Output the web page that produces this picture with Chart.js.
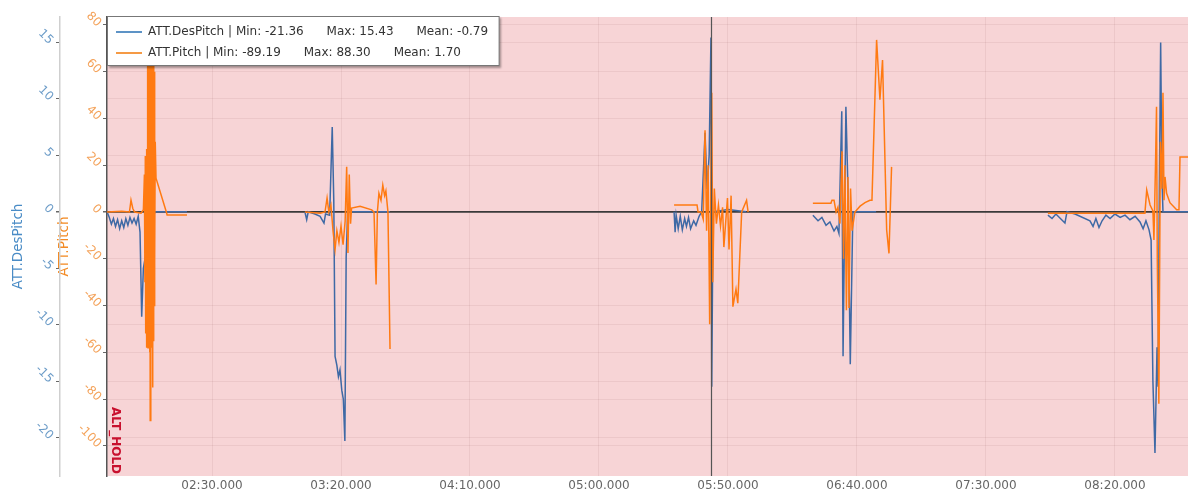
<!DOCTYPE html>
<html>
<head>
<meta charset="utf-8">
<script src="https://cdn.jsdelivr.net/npm/chart.js@4.4.1/dist/chart.umd.min.js"></script>
<style>
  html, body { margin: 0; padding: 0; background: #fff; }
  #caixa { width: 1188px; height: 502px; }
</style>
</head>
<body>
<div id="caixa"><canvas id="grafico" width="1188" height="502"></canvas></div>
<script>
// tempos em segundos, null = sem dados entre os voos
const desPitchTempo = [
  109.3, 110.2, 111.0, 111.8, 112.6, 113.4, 114.2, 115.0, 115.8, 116.6, 117.4, 118.2, 119.0, 119.8,
  120.6, 121.4, 122.1, 122.75, 123.4, 124.3, 125.0, 125.5, 126.0, 126.5, 127.0, 127.8, 133.0, 140.3, 141,
  186.0, 186.7, 187.3, 189.9, 191.9, 193.4, 194.0, 195.6, 196.6, 197.2, 197.7, 198.4, 199.0, 199.6,
  200.3, 200.9, 201.5, 202.0, 202.6, 210.0, 219.0, 220,
  329.1, 329.5, 329.9, 330.7, 331.5, 332.3, 333.2, 333.9, 334.7, 335.5, 336.7, 337.6, 338.8, 339.8,
  341.1, 341.9, 342.7, 343.4, 343.7, 344.2, 350.0, 357.0, 358,
  382.9, 384.9, 386.4, 388.0, 389.5, 391.1, 392.2, 393.0, 394.1, 394.6, 395.7, 396.5, 397.4, 398.4, 407.4, 408,
  474.0, 475.6, 477.1, 480.6, 481.4, 484.5, 490.3, 491.5, 492.6, 493.8, 495.0, 496.5, 498.1, 500.0,
  502.0, 503.9, 505.8, 507.8, 509.7, 510.9, 512.0, 513.2, 514.0, 514.7, 515.5, 516.3, 516.7, 517.2,
  517.7, 518.2, 518.6, 528.3
];
const desPitchValor = [
  0, -0.5, -1.1, -0.6, -1.3, -0.7, -1.5, -0.8, -1.4, -0.6, -1.2, -0.5, -1.0, -0.6,
  -1.1, -0.4, -1.8, -9.3, -5.0, -3.8, -1.5, 3.0, -4.0, 2.0, -1.0, 0, 0, 0, null,
  0, -0.7, 0, -0.2, -0.4, -1.0, -0.2, -0.3, 7.5, 1.0, -12.8, -13.6, -14.6, -14.0,
  -15.8, -16.6, -20.3, -4.0, 0, 0, 0, null,
  0, -1.8, -0.3, -1.5, -0.4, -1.6, -0.6, -1.3, -0.5, -1.5, -0.8, -1.2, -0.4, 0,
  7.0, 2.0, 5.0, 15.43, -15.5, 0, 0.2, 0, null,
  -0.3, -0.8, -0.5, -1.2, -0.9, -1.7, -1.3, -1.9, 8.9, -12.8, 9.3, 2.0, -13.5, 0, 0, null,
  -0.3, -0.6, -0.2, -1.0, 0, -0.2, -0.8, -1.3, -0.6, -1.4, -0.8, -0.3, -0.6, -0.2,
  -0.5, -0.3, -0.7, -0.4, -0.9, -1.5, -0.8, -1.6, -2.5, -15.0, -21.36, -12.0, -15.5, 2.0,
  15.0, 3.0, 0, 0
];

const pitchTempo = [
  109.3, 115.0, 118.0, 118.6, 119.3, 120.0, 122.5, 123.4, 123.8, 124.0, 124.15, 124.3, 124.45, 124.6,
  124.75, 124.9, 125.05, 125.2, 125.35, 125.5, 125.65, 125.8, 125.95, 126.05, 126.2, 126.35, 126.5,
  126.65, 126.8, 126.95, 127.1, 127.25, 127.4, 127.55, 127.7, 127.85, 128.0, 128.3, 132.3, 132.6, 140.3, 141,
  186.0, 191.9, 193.8, 194.6, 195.3, 196.1, 196.9, 197.7, 198.4, 199.2, 200.0, 200.8, 201.6, 202.2,
  202.7, 203.2, 203.7, 204.1, 207.4, 211.9, 212.8, 213.6, 214.1, 214.7, 215.5, 216.2, 216.9, 217.4,
  218.2, 219.0, 220,
  329.1, 338.0, 338.4, 339.6, 340.4, 341.1, 341.7, 342.3, 342.9, 343.7, 344.1, 344.7, 345.5, 346.3,
  347.1, 347.9, 348.4, 349.8, 350.4, 351.2, 351.9, 353.1, 353.8, 355.3, 357.2, 357.8, 358.5,
  382.9, 389.9, 390.3, 391.1, 391.9, 392.6, 393.4, 394.2, 394.8, 395.3, 395.9, 396.5, 396.9, 397.5,
  398.1, 399.2, 401.2, 403.1, 405.0, 405.8, 407.6, 408.9, 409.9, 411.5, 412.4, 413.4, 414,
  474.0, 511.6, 512.3, 513.6, 514.7, 515.1, 515.7, 516.1, 516.4, 517.0, 517.6, 518.2, 518.6, 519.0,
  519.4, 520.0, 521.3, 523.9, 524.8, 525.2, 528.3
];
const pitchValor = [
  0, 0.3, 0, 5.1, 1.5, 0, -0.5, 1.0, 16, -30, 24, -52, 20, -58,
  27, -45, 70, -58, 88.3, -55, 85, -60, 87, -89.19, 84, -62, 86,
  -58, 82, -75, 80, -55, 78, -40, 60, -20, 30, 14.5, 0, -1.3, -1.3, null,
  0, -0.5, 0, 6, 0, 3, -8, -16, -8, -13, -6, -14, -4, 19.4,
  -17.5, 16, -5, 1.7, 2.5, 0.9, 0, -31, 0, 8, 5, 11.5, 7, 9,
  0, -58.6, null,
  3, 3, 0, 0, -3, 35, -8, 20, -48, 51, -30, 10, -5, 3,
  -6, 2, -15, 6, -16, 7, -40.5, -33, -39, 0, 5, 0, null,
  3.8, 3.8, 5, 5, 0, 2, -5, 26, -20, 20, -42, 15, -41, 10,
  -8, 0, 2.5, 4, 5, 5, 73.6, 48, 65, -7.7, -17.7, 19.3, null,
  -0.5, -0.5, 9.4, 3, 0.5, -12, 20, 45, -20, -82, 30, 10, 51, 5,
  15, 8, 4, 1, 1, 23.5, 23.5
];

const nomesSeries = ['ATT.DesPitch', 'ATT.Pitch'];
const minSeries = [-21.36, -89.19];
const maxSeries = [15.43, 88.30];
const mediaSeries = [-0.79, 1.70];

const tempoMin = 109.3;
const tempoMax = 528.3;
const passoTempo = 50;
const desPitchMin = -23.4;
const desPitchMax = 17.25;
const pitchMin = -112.9;
const pitchMax = 83.4;

const tempoCursor = 343.4;
const inicioModo = 109.3;
const nomeModo = 'ALT_HOLD';

const azul = '#3e69a5';
const laranja = '#ff7a12';
const corFundo = '#f7d4d6';

Chart.defaults.font.family = '"DejaVu Sans", Verdana, sans-serif';
Chart.defaults.font.size = 12;

function pontos(tempos, valores) {
  return tempos.map((t, i) => ({ x: t, y: valores[i] }));
}

function formatarTempo(valor) {
  const m = Math.floor(valor / 60);
  const s = Math.round(valor - m * 60);
  return String(m).padStart(2, '0') + ':' + String(s).padStart(2, '0') + '.000';
}

const espaco = '      ';
function gerarLegenda(chart) {
  const cores = ['#5d93c6', '#f59a45'];
  return chart.data.datasets.map((ds, i) => ({
    text: nomesSeries[i] + ' | Min: ' + minSeries[i].toFixed(2) + espaco +
          'Max: ' + maxSeries[i].toFixed(2) + espaco + 'Mean: ' + mediaSeries[i].toFixed(2),
    fillStyle: cores[i],
    strokeStyle: cores[i],
    lineWidth: 0,
    fontColor: '#333',
    hidden: false,
    datasetIndex: i
  }));
}

function corGrade(ctx) {
  return (ctx.tick && ctx.tick.value === 0) ? '#3a3a3a' : 'rgba(110,50,50,0.08)';
}
function larguraGrade(ctx) {
  return (ctx.tick && ctx.tick.value === 0) ? 1.5 : 1;
}

function posicionarLegenda(chart) {
  const ca = chart.chartArea;
  const lg = chart.legend;
  lg.left = ca.left; lg.top = ca.top; lg.right = ca.right; lg.bottom = ca.bottom;
}

const pluginModo = {
  id: 'pluginModo',
  beforeDraw(chart) {
    const ctx = chart.ctx;
    const ca = chart.chartArea;
    ctx.save();
    ctx.fillStyle = corFundo;
    ctx.fillRect(ca.left, ca.top, ca.right - ca.left, ca.bottom - ca.top);
    ctx.restore();
    posicionarLegenda(chart);
  },
  afterDatasetsDraw(chart) {
    const ctx = chart.ctx;
    const ca = chart.chartArea;
    const xs = chart.scales.x;

    // linha do cursor
    const px = Math.round(xs.getPixelForValue(tempoCursor)) + 0.5;
    ctx.save();
    ctx.strokeStyle = '#555';
    ctx.lineWidth = 1.2;
    ctx.beginPath();
    ctx.moveTo(px, ca.top);
    ctx.lineTo(px, ca.bottom);
    ctx.stroke();

    // nome do modo de voo
    ctx.translate(xs.getPixelForValue(inicioModo) + 8.5, ca.bottom - 2);
    ctx.rotate(Math.PI / 2);
    ctx.font = 'bold 12px "DejaVu Sans", Verdana, sans-serif';
    ctx.fillStyle = '#c8102e';
    ctx.textAlign = 'right';
    ctx.textBaseline = 'middle';
    ctx.fillText(nomeModo, 0, 0);
    ctx.restore();

    // caixa da legenda por cima das linhas
    const lg = chart.legend;
    const larg = Math.max(...lg.legendHitBoxes.map(h => h.width));
    ctx.save();
    ctx.shadowColor = 'rgba(0,0,0,0.35)';
    ctx.shadowOffsetX = 1.5;
    ctx.shadowOffsetY = 1.5;
    ctx.shadowBlur = 2;
    ctx.fillStyle = '#fff';
    ctx.fillRect(ca.left, ca.top - 1, larg + 20, 50);
    ctx.restore();
    ctx.save();
    ctx.strokeStyle = '#777';
    ctx.lineWidth = 1;
    ctx.strokeRect(ca.left + 0.5, ca.top - 0.5, larg + 19.5, 49);
    ctx.restore();
    lg.draw();
  }
};

const ctx = document.getElementById('grafico');
const grafico = new Chart(ctx, {
  type: 'line',
  data: {
    datasets: [
      {
        label: nomesSeries[0],
        data: pontos(desPitchTempo, desPitchValor),
        borderColor: azul,
        borderWidth: 1.5,
        pointRadius: 0,
        tension: 0,
        yAxisID: 'y',
        order: 1
      },
      {
        label: nomesSeries[1],
        data: pontos(pitchTempo, pitchValor),
        borderColor: laranja,
        borderWidth: 1.5,
        pointRadius: 0,
        tension: 0,
        yAxisID: 'y2',
        order: 0
      }
    ]
  },
  options: {
    responsive: false,
    devicePixelRatio: 1,
    animation: false,
    events: [],
    layout: { padding: { left: 0, right: 0, top: 17, bottom: 0 } },
    plugins: {
      legend: {
        position: 'chartArea',
        align: 'start',
        labels: {
          boxWidth: 26,
          boxHeight: 2,
          padding: 9,
          color: '#333',
          font: { size: 12 },
          generateLabels: gerarLegenda,
          sort: (a, b) => a.datasetIndex - b.datasetIndex
        }
      },
      tooltip: { enabled: false }
    },
    scales: {
      x: {
        type: 'linear',
        position: 'bottom',
        min: tempoMin,
        max: tempoMax,
        ticks: {
          stepSize: passoTempo,
          includeBounds: false,
          autoSkip: false,
          maxRotation: 0,
          color: '#666',
          padding: 3,
          callback: formatarTempo
        },
        grid: { color: 'rgba(110,50,50,0.08)', drawTicks: false },
        border: { display: false },
        afterFit: s => { s.height = 26; }
      },
      y: {
        position: 'left',
        weight: 1,
        min: desPitchMin,
        max: desPitchMax,
        ticks: {
          stepSize: 5,
          includeBounds: false,
          minRotation: -45,
          color: '#6c9cc8',
          padding: 5
        },
        grid: { color: corGrade, lineWidth: larguraGrade, tickLength: 4, tickColor: '#666' },
        border: { color: '#cfcfcf', width: 1.5 },
        title: {
          display: true,
          text: nomesSeries[0],
          color: '#4a8cc6',
          font: { size: 13.5 },
          padding: { top: 10, bottom: 0 }
        },
        afterFit: s => { s.width = 60; }
      },
      y2: {
        position: 'left',
        weight: 0,
        min: pitchMin,
        max: pitchMax,
        ticks: {
          stepSize: 20,
          includeBounds: false,
          minRotation: -45,
          color: '#f4a259',
          padding: 4
        },
        grid: { color: corGrade, lineWidth: larguraGrade, tickLength: 4, tickColor: '#666' },
        border: { color: '#555', width: 1.5 },
        title: {
          display: true,
          text: nomesSeries[1],
          color: '#f38b25',
          font: { size: 13.5 },
          padding: { top: -4, bottom: 0 }
        },
        afterFit: s => { s.width = 47; }
      }
    }
  },
  plugins: [pluginModo]
});
</script>
</body>
</html>
